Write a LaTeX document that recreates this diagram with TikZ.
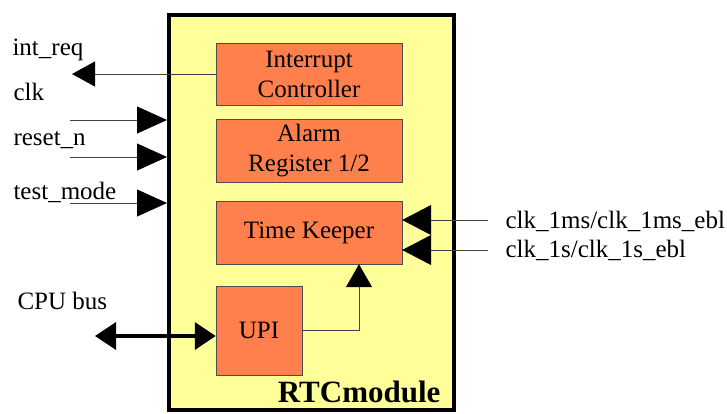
\documentclass[tikz,border=0pt]{standalone}
\usepackage{fontspec}
\setmainfont{Liberation Serif}
\usetikzlibrary{arrows.meta}
\definecolor{rtcyellow}{RGB}{255,255,153}
\definecolor{blockorange}{RGB}{255,128,77}

\begin{document}
\begin{tikzpicture}
  [x=1pt,y=-1pt,every node/.style={font=\fontsize{25}{30}\selectfont}]
  \tikzstyle{block} = [draw=black!70,fill=blockorange,align=center,inner sep=0pt]
  \tikzstyle{sig} = [draw=black!75,line width=0.9pt,-{Triangle[length=30pt,width=27pt,color=black]}]
  \tikzstyle{bus} = [line width=3.5pt,{Triangle[length=21pt,width=27pt]}-{Triangle[length=21pt,width=27pt]}]
  \useasboundingbox (0,0) rectangle (727,413);
  \node[draw,line width=4pt,fill=rtcyellow,minimum width=285pt,minimum height=395pt,inner sep=0pt] (rtc) at (311.5,212) {};
  \node[block,minimum width=186pt,minimum height=62pt] (ic) at (309,74) {Interrupt\\Controller};
  \node[block,minimum width=186pt,minimum height=63pt] (ar) at (309,150.5) {Alarm\\Register 1/2};
  \node[block,minimum width=186pt,minimum height=63pt] (tk) at (309,232.5) {Time Keeper};
  \node[block,minimum width=86pt,minimum height=89pt] (upi) at (259,330.5) {UPI};
  \node[anchor=base east,font=\bfseries\fontsize{31}{36}\selectfont] (name) at (444,402) {RTCmodule};
  % interrupt out
  \coordinate (irq) at (72,74);
  \draw[sig,-{Triangle[length=23pt,width=25pt,color=black]}] (ic.west) -- (irq);
  \node[anchor=base west] (irqlbl) at (9,55) {int\_req};
  % inputs on the left
  \foreach \name/\txt/\lbly/\y in {clk/clk/100/120,rst/reset\_n/145/157,tm/test\_mode/199/203}
  {
    \node[anchor=base west] (\name lbl) at (10,\lbly) {\txt};
    \coordinate (\name) at (70,\y);
    \draw[sig] (\name) -- (rtc.west |- \name);
  }
  % clocks on the right
  \foreach \name/\txt/\lbly/\y in {ms/{clk\_1ms/clk\_1ms\_ebl}/228/220,sec/{clk\_1s/clk\_1s\_ebl}/257/250}
  {
    \coordinate (\name) at (488,\y);
    \draw[sig,-{Triangle[length=29pt,width=30pt,color=black]}] (\name) -- (tk.east |- \name);
    \node[anchor=base west] (\name lbl) at (502,\lbly) {\txt};
  }
  % cpu bus
  \coordinate (cpu) at (95,336);
  \draw[bus] (cpu) -- (upi.west |- cpu);
  \node[anchor=base west] (cpulbl) at (14,309) {CPU bus};
  \draw[sig,-{Triangle[length=23pt,width=26pt,color=black]}] (upi.east) -| ([xshift=50pt]tk.south);
\end{tikzpicture}
\end{document}
